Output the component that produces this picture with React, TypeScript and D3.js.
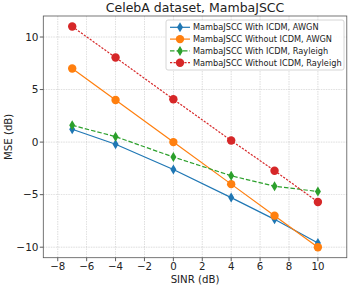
import React from 'react';
import * as d3 from 'd3';

const sinr = [-7, -4, 0, 4, 7, 10];
const withIcdmAwgn = [1.22, -0.2, -2.6, -5.28, -7.35, -9.6];
const withoutIcdmAwgn = [7.0, 4.0, 0.0, -4.0, -7.0, -10.0];
const withIcdmRayleigh = [1.6, 0.52, -1.42, -3.2, -4.2, -4.7];
const withoutIcdmRayleigh = [11.0, 8.05, 4.08, 0.15, -2.72, -5.7];
const seriesNames = [
  'MambaJSCC With ICDM, AWGN',
  'MambaJSCC Without ICDM, AWGN',
  'MambaJSCC With ICDM, Rayleigh',
  'MambaJSCC Without ICDM, Rayleigh',
];
const xTicks = [-8, -6, -4, -2, 0, 2, 4, 6, 8, 10];
const yTicks = [-10, -5, 0, 5, 10];

const W = 351;
const H = 289;
const font = 'DejaVu Sans, sans-serif';

const series = [
  { name: seriesNames[0], values: withIcdmAwgn, color: '#1f77b4', dash: '', marker: 'diamond' },
  { name: seriesNames[1], values: withoutIcdmAwgn, color: '#ff7f0e', dash: '', marker: 'circle' },
  { name: seriesNames[2], values: withIcdmRayleigh, color: '#2ca02c', dash: '4.5,2', marker: 'diamond' },
  { name: seriesNames[3], values: withoutIcdmRayleigh, color: '#d62728', dash: '2.2,1.4', marker: 'circle' },
];

const Marker: React.FC<{ kind: string; x: number; y: number; color: string }> = ({ kind, x, y, color }) =>
  kind === 'circle' ? (
    <circle cx={x} cy={y} r={4.2} fill={color} />
  ) : (
    <path d={`M${x},${y - 5}L${x + 3},${y}L${x},${y + 5}L${x - 3},${y}Z`} fill={color} />
  );

const App: React.FC = () => {
  const x = d3.scaleLinear().domain([-9, 12]).range([43.3, 346.8]);
  const y = d3.scaleLinear().domain([-11, 12]).range([257.7, 16]);
  const line = d3
    .line<number>()
    .x((_, i) => x(sinr[i]))
    .y((d) => y(d));
  const fmt = (t: number) => (t < 0 ? '\u2212' + Math.abs(t) : String(t));

  return (
    <svg width={W} height={H} style={{ position: 'absolute', left: 0, top: 0, background: '#fff' }}>
      <text x={(x.range()[0] + x.range()[1]) / 2} y={12} textAnchor="middle" fontFamily={font} fontSize={12.5} fill="#222">
        CelebA dataset, MambaJSCC
      </text>
      {xTicks.map((t) => (
        <g key={'x' + t}>
          <line x1={x(t)} x2={x(t)} y1={y(12)} y2={y(-11)} stroke="#b0b0b0" strokeWidth={0.6} strokeDasharray="1.5,1" opacity={0.7} />
          <line x1={x(t)} x2={x(t)} y1={y(-11)} y2={y(-11) + 3.5} stroke="#333" strokeWidth={0.8} />
          <text x={x(t)} y={270} textAnchor="middle" fontFamily={font} fontSize={10.2} fill="#222">
            {fmt(t)}
          </text>
        </g>
      ))}
      {yTicks.map((t) => (
        <g key={'y' + t}>
          <line x1={x(-9)} x2={x(12)} y1={y(t)} y2={y(t)} stroke="#b0b0b0" strokeWidth={0.6} strokeDasharray="1.5,1" opacity={0.7} />
          <line x1={x(-9) - 3.5} x2={x(-9)} y1={y(t)} y2={y(t)} stroke="#333" strokeWidth={0.8} />
          <text x={x(-9) - 4.8} y={y(t) + 3.8} textAnchor="end" fontFamily={font} fontSize={10.5} fill="#222">
            {fmt(t)}
          </text>
        </g>
      ))}
      <rect x={x(-9)} y={y(12)} width={x(12) - x(-9)} height={y(-11) - y(12)} fill="none" stroke="#555" strokeWidth={0.8} />
      {series.map((s) => (
        <g key={s.name}>
          <path d={line(s.values) || ''} fill="none" stroke={s.color} strokeWidth={1.2} strokeDasharray={s.dash} />
          {s.values.map((v, i) => (
            <Marker key={i} kind={s.marker} x={x(sinr[i])} y={y(v)} color={s.color} />
          ))}
        </g>
      ))}
      <text x={(x.range()[0] + x.range()[1]) / 2} y={282.5} textAnchor="middle" fontFamily={font} fontSize={10.2} fill="#222">
        SINR (dB)
      </text>
      <text transform={`translate(11.5,${(y.range()[0] + y.range()[1]) / 2}) rotate(-90)`} textAnchor="middle" fontFamily={font} fontSize={10.2} fill="#222">
        MSE (dB)
      </text>
      <g>
        <rect x={166} y={20} width={178} height={50} rx={2} fill="#fff" fillOpacity={0.85} stroke="#ccc" strokeWidth={0.8} />
        {series.map((s, i) => {
          const ly = 27.3 + i * 11.8;
          return (
            <g key={'l' + i}>
              <line x1={170} x2={190} y1={ly} y2={ly} stroke={s.color} strokeWidth={1.2} strokeDasharray={s.dash} />
              <Marker kind={s.marker} x={180} y={ly} color={s.color} />
              <text x={193} y={ly + 3} fontFamily={font} fontSize={8.2} fill="#222">
                {s.name}
              </text>
            </g>
          );
        })}
      </g>
    </svg>
  );
};

export default App;
